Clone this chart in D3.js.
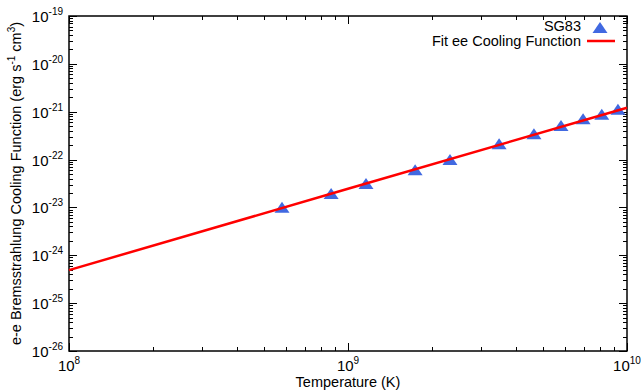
<!DOCTYPE html>
<html>
<head>
<meta charset="utf-8">
<script src="https://cdn.jsdelivr.net/npm/d3@7"></script>
<style>
  body { margin: 0; background: #fff; }
  text { font-family: "Liberation Sans", Arial, sans-serif; fill: #000; }
</style>
</head>
<body>
<div id="chart"></div>
<script>
// SG83 points: temperature (K) and cooling function (erg s^-1 cm^3)
const sgTemp = [5.8e8, 8.7e8, 1.16e9, 1.74e9, 2.32e9, 3.48e9, 4.64e9, 5.8e9, 6.96e9, 8.12e9, 9.28e9];
const sgCool = [9.8e-24, 1.9e-23, 3.1e-23, 6.0e-23, 9.8e-23, 2.1e-22, 3.4e-22, 5.0e-22, 7.0e-22, 8.6e-22, 1.1e-21];

// fit line at a few temperatures
const fitTemp = [1e8, 1e9, 1e10];
const fitCool = [4.9e-25, 2.45e-23, 1.21e-21];

const xDecades = [8, 9, 10];
const yDecades = [-26, -25, -24, -23, -22, -21, -20, -19];

const width = 641, height = 391;
const margin = { left: 69, right: 14, top: 16, bottom: 40 };

const svg = d3.select("#chart").append("svg")
  .attr("width", width)
  .attr("height", height);

const x = d3.scaleLog().domain([1e8, 1e10]).range([margin.left, width - margin.right]);
const y = d3.scaleLog().domain([1e-26, 1e-19]).range([height - margin.bottom, margin.top]);

const x0 = margin.left, x1 = width - margin.right;
const y0 = height - margin.bottom, y1 = margin.top;

// minor ticks, 2..9 in each decade
const minorX = [], minorY = [];
xDecades.slice(0, -1).forEach(e => { for (let m = 2; m <= 9; m++) minorX.push(m * Math.pow(10, e)); });
yDecades.slice(0, -1).forEach(e => { for (let m = 2; m <= 9; m++) minorY.push(m * Math.pow(10, e)); });

const ticks = svg.append("g").attr("stroke", "#000").attr("stroke-width", 1);

// x ticks on bottom and top
xDecades.forEach(e => {
  const px = Math.round(x(Math.pow(10, e))) + 0.5;
  ticks.append("line").attr("x1", px).attr("x2", px).attr("y1", y0).attr("y2", y0 - 8);
  ticks.append("line").attr("x1", px).attr("x2", px).attr("y1", y1).attr("y2", y1 + 8);
});
minorX.forEach(v => {
  const px = Math.round(x(v)) + 0.5;
  ticks.append("line").attr("x1", px).attr("x2", px).attr("y1", y0).attr("y2", y0 - 4);
  ticks.append("line").attr("x1", px).attr("x2", px).attr("y1", y1).attr("y2", y1 + 4);
});

// y ticks on left and right
yDecades.forEach(e => {
  const py = Math.round(y(Math.pow(10, e))) + 0.5;
  ticks.append("line").attr("x1", x0).attr("x2", x0 + 8).attr("y1", py).attr("y2", py);
  ticks.append("line").attr("x1", x1).attr("x2", x1 - 8).attr("y1", py).attr("y2", py);
});
minorY.forEach(v => {
  const py = Math.round(y(v)) + 0.5;
  ticks.append("line").attr("x1", x0).attr("x2", x0 + 4).attr("y1", py).attr("y2", py);
  ticks.append("line").attr("x1", x1).attr("x2", x1 - 4).attr("y1", py).attr("y2", py);
});

// frame
svg.append("rect")
  .attr("x", x0).attr("y", y1)
  .attr("width", x1 - x0).attr("height", y0 - y1)
  .attr("fill", "none").attr("stroke", "#000").attr("stroke-width", 1.5);

// tick labels
xDecades.forEach(e => {
  const t = svg.append("text")
    .attr("x", x(Math.pow(10, e)))
    .attr("y", y0 + 20)
    .attr("text-anchor", "middle")
    .style("font-size", "15px");
  t.append("tspan").text("10");
  t.append("tspan").attr("dy", -7).style("font-size", "10px").text(e);
});

yDecades.forEach(e => {
  const t = svg.append("text")
    .attr("x", x0 - 6)
    .attr("y", y(Math.pow(10, e)) + 6)
    .attr("text-anchor", "end")
    .style("font-size", "15px");
  t.append("tspan").text("10");
  t.append("tspan").attr("dy", -7).style("font-size", "10px").text(e);
});

// axis titles
svg.append("text")
  .attr("x", (x0 + x1) / 2)
  .attr("y", height - 4)
  .attr("text-anchor", "middle")
  .style("font-size", "14.5px")
  .text("Temperature (K)");

const yt = svg.append("text")
  .attr("transform", `translate(21, ${(y0 + y1) / 2}) rotate(-90)`)
  .attr("text-anchor", "middle")
  .style("font-size", "14.5px");
yt.append("tspan").text("e-e Bremsstrahlung Cooling Function (erg s");
yt.append("tspan").attr("dy", -6).style("font-size", "10px").text("-1");
yt.append("tspan").attr("dy", 6).text(" cm");
yt.append("tspan").attr("dy", -6).style("font-size", "10px").text("3");
yt.append("tspan").attr("dy", 6).text(")");

// SG83 triangles
const tri = "M0,-6L7.5,5L-7.5,5Z";
svg.append("g").selectAll("path")
  .data(sgTemp.map((t, i) => [t, sgCool[i]]))
  .enter().append("path")
  .attr("d", tri)
  .attr("transform", d => `translate(${x(d[0])},${y(d[1])})`)
  .attr("fill", "#4169e1");

// fit line
const line = d3.line().x(d => x(d[0])).y(d => y(d[1]));
svg.append("path")
  .datum(fitTemp.map((t, i) => [t, fitCool[i]]))
  .attr("d", line)
  .attr("fill", "none")
  .attr("stroke", "#ff0000")
  .attr("stroke-width", 2.5);

// legend
const lg = svg.append("g");
lg.append("text").attr("x", 581).attr("y", 31).attr("text-anchor", "end")
  .style("font-size", "14.5px").text("SG83");
lg.append("path").attr("d", tri).attr("transform", "translate(600,28)").attr("fill", "#4169e1");
lg.append("text").attr("x", 581).attr("y", 46).attr("text-anchor", "end")
  .style("font-size", "14.5px").text("Fit ee Cooling Function");
lg.append("line").attr("x1", 587).attr("x2", 615).attr("y1", 41).attr("y2", 41)
  .attr("stroke", "#ff0000").attr("stroke-width", 2.5);
</script>
</body>
</html>
